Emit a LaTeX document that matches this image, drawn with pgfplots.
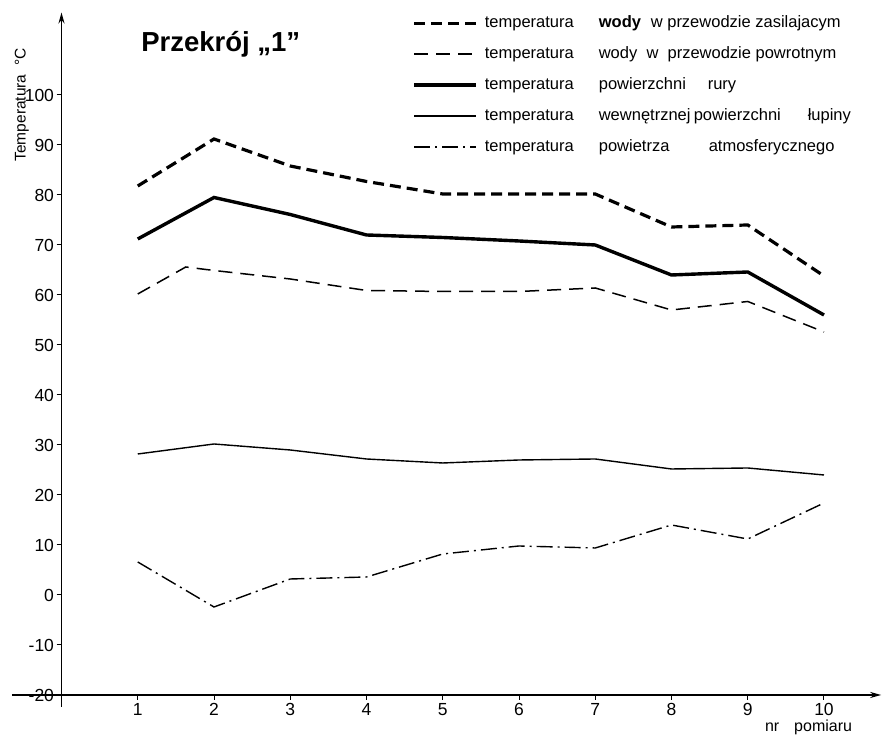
\documentclass[border=0pt]{standalone}
\usepackage{fontspec}
\setmainfont{Liberation Sans}
\usepackage{pgfplots}
\pgfplotsset{compat=1.18}
\usetikzlibrary{arrows.meta}
\pgfplotstableread{
x s1 s3 s4 s5
1 81.8 71.2 28.2 6.6
2 91.2 79.5 30.2 -2.4
3 85.8 76.1 29.0 3.2
4 82.7 72.0 27.2 3.6
5 80.2 71.5 26.4 8.2
6 80.2 70.8 27.0 9.8
7 80.2 70.0 27.2 9.4
8 73.6 64.0 25.2 14.0
9 74.0 64.6 25.4 11.2
10 63.8 56.0 24.0 18.4
}\datatab
\pgfplotstableread{
x s2
1 60.2
1.63 65.6
2 64.9
3 63.2
4 60.9
5 60.7
6 60.7
7 61.4
8 57.0
9 58.7
10 52.6
}\rettab
\begin{document}
\begin{tikzpicture}
\begin{axis}[
  x=76.25pt, y=5pt,
  xmin=0, xmax=10.75, ymin=-20, ymax=116.5,
  axis lines=left,
  axis line style={line width=1.8pt, -{Stealth[length=11pt,width=6pt]}},
  xtick={1,...,10}, ytick={-20,-10,...,100},
  tick align=outside, major tick length=5pt,
  tick style={line width=1pt, black},
  ticklabel style={font=\fontsize{17.5}{17.5}\selectfont},
  yticklabel style={xshift=1pt},
  /pgf/number format/assume math mode=true,
  /pgf/number format/1000 sep={},
  clip=false,
  legend cell align=left,
  legend style={at={(axis cs:4.6,116.2)}, anchor=north west, draw=none, fill=none,
     inner sep=0pt, font=\fontsize{16.5}{16.5}\selectfont, row sep=13pt,
     nodes={inner sep=1pt, text height=12pt, text depth=4pt}},
  legend image code/.code={\draw[#1] (0pt,0pt) -- (62pt,0pt);},
]
\addplot[black, line width=3.2pt, dash pattern=on 11pt off 6pt] table[x=x,y=s1]{\datatab};
\addlegendentry{\hspace{6pt}\makebox[114pt][l]{temperatura}\makebox[52pt][l]{\bfseries wody}w przewodzie zasilajacym}
\addplot[black, line width=1.5pt, dash pattern=on 14pt off 8pt] table[x=x,y=s2]{\rettab};
\addlegendentry{\hspace{6pt}\makebox[114pt][l]{temperatura}wody\ \ w\ \ przewodzie powrotnym}
\addplot[black, line width=3.4pt] table[x=x,y=s3]{\datatab};
\addlegendentry{\hspace{6pt}\makebox[114pt][l]{temperatura}\makebox[109pt][l]{powierzchni}rury}
\addplot[black, line width=1.4pt] table[x=x,y=s4]{\datatab};
\addlegendentry{\hspace{6pt}\makebox[114pt][l]{temperatura}\makebox[95pt][l]{wewnętrznej}\makebox[114pt][l]{powierzchni}łupiny}
\addplot[black, line width=1.4pt, dash pattern=on 16pt off 5pt on 2pt off 5pt] table[x=x,y=s5]{\datatab};
\addlegendentry{\hspace{6pt}\makebox[114pt][l]{temperatura}\makebox[110pt][l]{powietrza}atmosferycznego}
\draw[line width=1.8pt] (axis cs:-0.65,-20) -- (axis cs:0,-20);
\draw[line width=1.8pt] (axis cs:0,-20) -- (axis cs:0,-22.4);
\node[anchor=base west, font=\fontsize{27.5}{27.5}\selectfont\bfseries] at (axis cs:1.0,108.6) {Przekrój „1”};
\node[rotate=90, anchor=center, font=\fontsize{15.5}{15.5}\selectfont] at (axis cs:-0.52,98.0) {Temperatura\ \ °C};
\node[anchor=base west, font=\fontsize{16}{16}\selectfont] at (axis cs:9.18,-27.4) {nr\hspace{15pt}pomiaru};
\coordinate (BL) at (axis cs:-0.8066,-28);
\coordinate (TR) at (axis cs:10.787,119);
\end{axis}
\pgfresetboundingbox
\useasboundingbox (BL) rectangle (TR);
\end{tikzpicture}
\end{document}
